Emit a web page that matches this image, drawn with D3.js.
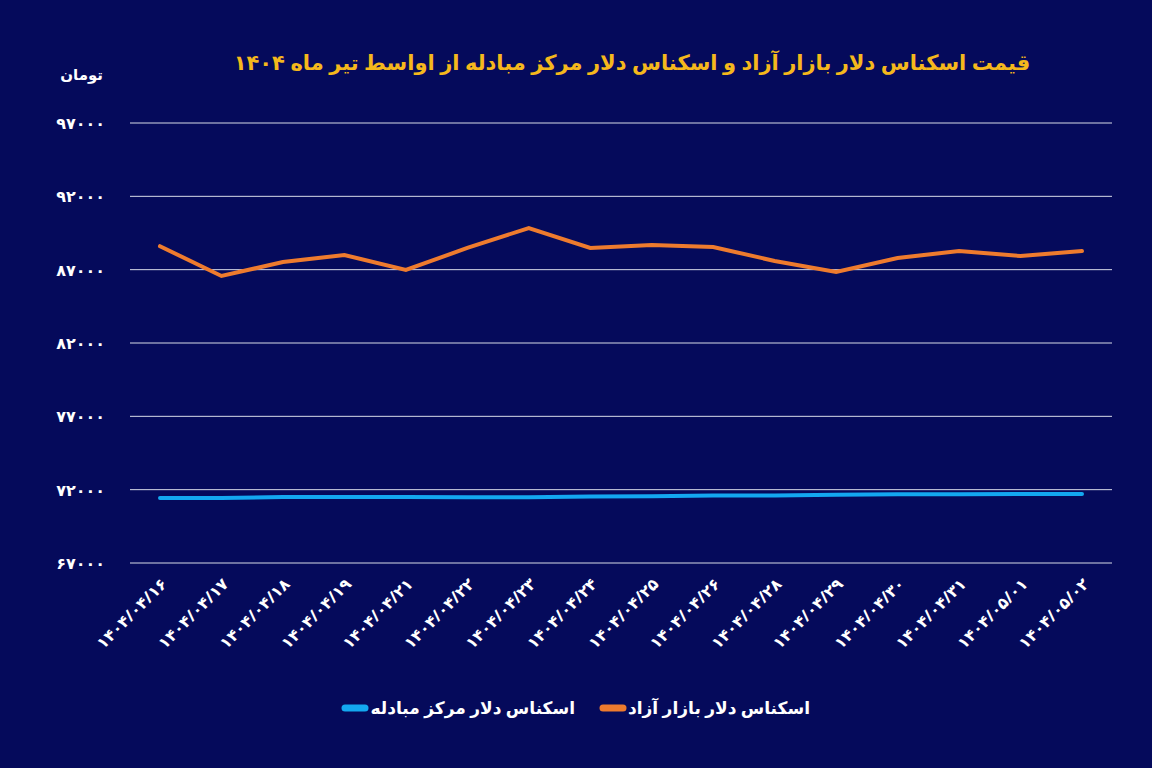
<!DOCTYPE html>
<html><head><meta charset="utf-8">
<script src="https://cdn.jsdelivr.net/npm/d3@7"></script>
<style>body{margin:0;background:#050a5b;}svg{display:block;font-family:"Noto Sans","DejaVu Sans",sans-serif;}</style>
</head><body>
<svg id="c" width="1152" height="768"></svg>
<script>
const categories=["۱۴۰۴/۰۴/۱۶","۱۴۰۴/۰۴/۱۷","۱۴۰۴/۰۴/۱۸","۱۴۰۴/۰۴/۱۹","۱۴۰۴/۰۴/۲۱","۱۴۰۴/۰۴/۲۲","۱۴۰۴/۰۴/۲۳","۱۴۰۴/۰۴/۲۴","۱۴۰۴/۰۴/۲۵","۱۴۰۴/۰۴/۲۶","۱۴۰۴/۰۴/۲۸","۱۴۰۴/۰۴/۲۹","۱۴۰۴/۰۴/۳۰","۱۴۰۴/۰۴/۳۱","۱۴۰۴/۰۵/۰۱","۱۴۰۴/۰۵/۰۲"];
const freeMarket=[88600,86570,87520,88000,86980,88480,89840,88480,88680,88550,87590,86840,87800,88270,87930,88270];
const exchangeCenter=[71430,71430,71500,71500,71500,71480,71480,71530,71550,71600,71600,71650,71680,71680,71700,71700];
const yTicks=[67000,72000,77000,82000,87000,92000,97000];
const seriesNames=["اسکناس دلار بازار آزاد","اسکناس دلار مرکز مبادله"];
const title="قیمت اسکناس دلار بازار آزاد و اسکناس دلار مرکز مبادله از اواسط تیر ماه ۱۴۰۴";
const fa=n=>String(n).replace(/\d/g,d=>"۰۱۲۳۴۵۶۷۸۹"[d]);
const svg=d3.select("#c");
svg.append("rect").attr("width",1152).attr("height",768).attr("fill","#050a5b");
const x=d3.scalePoint().domain(categories).range([160,1082]);
const y=d3.scaleLinear().domain([67000,97000]).range([563,123]);
svg.append("g").selectAll("line").data(yTicks).join("line")
 .attr("x1",130).attr("x2",1112).attr("y1",d=>y(d)).attr("y2",d=>y(d))
 .attr("stroke","#d8dbe8").attr("stroke-width",1);
svg.append("g").selectAll("text").data(yTicks).join("text")
 .attr("x",105).attr("y",d=>y(d)+6).attr("text-anchor","end").attr("fill","#fff")
 .attr("font-size",16).attr("font-weight","bold").text(d=>fa(d));
svg.append("text").attr("x",103).attr("y",80).attr("text-anchor","end").attr("fill","#fff")
 .attr("font-size",15).attr("font-weight","bold").text("تومان");
svg.append("g").selectAll("text").data(categories).join("text")
 .attr("transform",d=>`translate(${x(d)+8},${585}) rotate(-45)`)
 .attr("text-anchor","end").attr("fill","#fff").attr("font-size",16).attr("font-weight","bold")
 .attr("direction","ltr").text(d=>d);
const line=d3.line().x((d,i)=>x(categories[i])).y(d=>y(d));
svg.append("path").datum(exchangeCenter).attr("d",line).attr("fill","none").attr("stroke","#13a8f0").attr("stroke-width",4).attr("stroke-linecap","round");
svg.append("path").datum(freeMarket).attr("d",line).attr("fill","none").attr("stroke","#ee7b2e").attr("stroke-width",4).attr("stroke-linecap","round");
svg.append("text").attr("x",632).attr("y",70).attr("text-anchor","middle").attr("fill","#f5b81c")
 .attr("font-size",21).attr("font-weight","bold").attr("direction","rtl").text(title);
const lg=[{n:seriesNames[0],c:"#ee7b2e",lx:603,tx:810},{n:seriesNames[1],c:"#13a8f0",lx:345,tx:575}];
lg.forEach(l=>{
 svg.append("line").attr("x1",l.lx).attr("x2",l.lx+20).attr("y1",708).attr("y2",708).attr("stroke",l.c).attr("stroke-width",7).attr("stroke-linecap","round");
 svg.append("text").attr("x",l.tx).attr("y",714).attr("text-anchor","start").attr("direction","rtl").attr("fill","#fff").attr("font-size",17).attr("font-weight","bold").text(l.n);
});
</script></body></html>
